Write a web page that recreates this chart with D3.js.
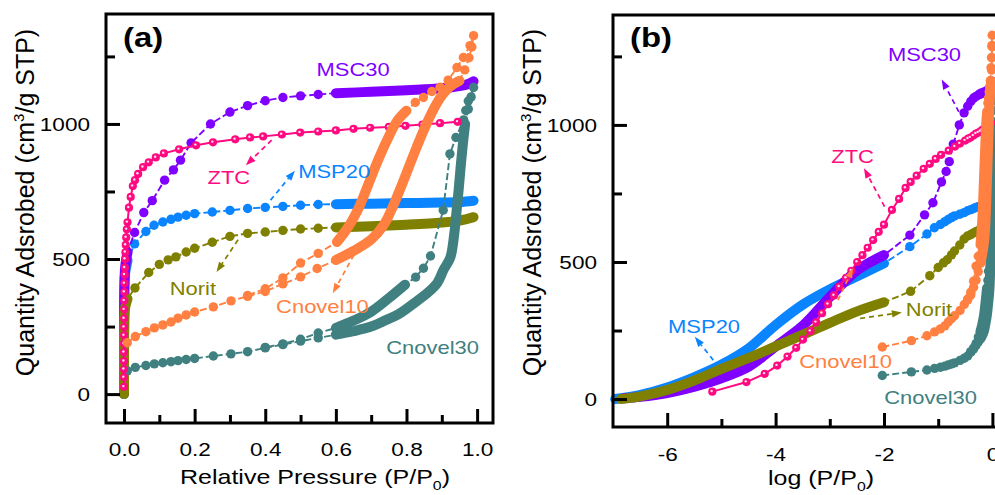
<!DOCTYPE html>
<html>
<head>
<meta charset="utf-8">
<script src="https://cdn.jsdelivr.net/npm/d3@7"></script>
<style>
  html, body { margin: 0; padding: 0; background: #fff; }
  svg { display: block; font-family: "Liberation Sans", Arial, Helvetica, sans-serif; }
</style>
</head>
<body>
<script>
// N2 isotherms at 77 K: [relative pressure P/P0, quantity adsorbed (cm3/g STP)]

// MSC30
const msc30Low  = [[1.6e-7,3],[3.2e-7,8],[1e-6,22],[3.2e-6,45],[1e-5,76],[3.2e-5,118],[1e-4,192],[3.2e-4,268],[1e-3,372],[3.2e-3,470],[1e-2,525]];
const msc30Mid  = [[0.03,598],[0.056,672],[0.08,716],[0.115,792],[0.14,830],[0.16,866],[0.19,930],[0.245,1000],[0.3,1044],[0.35,1068],[0.4,1086],[0.45,1098],[0.5,1104],[0.55,1109]];
const msc30High = [[0.6,1114],[0.7,1119],[0.8,1125],[0.9,1132],[0.95,1140],[0.975,1148],[0.99,1158]];

// MSP20
const msp20Low  = [[1.1e-7,0],[3.2e-7,15],[1e-6,42],[3.2e-6,80],[1e-5,125],[3.2e-5,185],[1e-4,270],[3.2e-4,345],[1e-3,400],[3.2e-3,448],[1e-2,495]];
const msp20Mid  = [[0.03,556],[0.062,602],[0.085,625],[0.11,637],[0.133,647],[0.153,655],[0.176,662],[0.2,668],[0.25,674],[0.3,680],[0.35,687],[0.4,691],[0.45,695],[0.5,699],[0.55,702]];
const msp20High = [[0.6,703],[0.7,705],[0.8,707],[0.9,709],[0.95,711],[0.99,716]];

// Norit
const noritLow  = [[1.4e-7,0],[3.2e-7,10],[1e-6,33],[3.2e-6,68],[1e-5,110],[3.2e-5,150],[1e-4,192],[3.2e-4,235],[1e-3,278],[3.2e-3,320],[1e-2,353]];
const noritMid  = [[0.031,393],[0.07,450],[0.1,480],[0.125,497],[0.147,508],[0.176,526],[0.2,540],[0.25,562],[0.3,584],[0.35,595],[0.4,600],[0.45,606],[0.5,611],[0.55,614]];
const noritHigh = [[0.6,617],[0.7,621],[0.8,627],[0.9,635],[0.95,642],[0.99,655]];

// ZTC
const ztcAds = [[6.8e-6,27],[2.9e-5,62],[6.3e-5,92],[1.07e-4,122],[1.66e-4,155],[2.4e-4,187],[3.2e-4,217],[4.4e-4,248],[5.6e-4,280],[7.2e-4,313],[9.3e-4,346],[1.2e-3,378],[1.5e-3,410],[2.0e-3,442],[2.5e-3,468],[3.2e-3,500],[4.0e-3,525],[5.0e-3,552],[6.3e-3,580],[8.0e-3,610],[0.01,636],[0.014,690],[0.019,730],[0.025,770],[0.031,792],[0.04,815],[0.054,840],[0.07,858],[0.09,876],[0.113,891],[0.156,906],[0.204,921],[0.252,932],[0.315,943],[0.357,950],[0.394,954],[0.447,961],[0.499,968],[0.55,972],[0.6,976],[0.65,982],[0.697,986],[0.75,989],[0.797,993],[0.845,998],[0.895,1003],[0.945,1008]];

// Cnovel10 (adsorption / desorption)
const c10AdsMid  = [[0.0093,190],[0.032,213],[0.062,231],[0.086,245],[0.11,256],[0.133,267],[0.153,281],[0.176,293],[0.2,304],[0.253,323],[0.303,345],[0.35,362],[0.4,380],[0.45,408],[0.5,434],[0.547,465]];
const c10AdsHigh = [[0.6,496],[0.65,530],[0.7,572],[0.735,625],[0.76,690],[0.79,785],[0.82,885],[0.85,980],[0.875,1050],[0.9,1105],[0.925,1140],[0.95,1160]];
const c10AdsTop  = [[0.965,1200],[0.977,1245],[0.985,1285],[0.99,1327]];
const c10DesTop  = [[0.98,1290],[0.961,1246],[0.943,1209],[0.918,1162],[0.895,1136],[0.872,1120],[0.848,1098],[0.825,1080]];
const c10DesHigh = [[0.8,1049],[0.773,1010],[0.745,940],[0.716,855],[0.69,770],[0.665,690],[0.645,640],[0.625,600],[0.603,563]];
const c10DesMid  = [[0.55,521],[0.5,485],[0.45,430],[0.4,390],[0.35,365]];

// Cnovel30 (adsorption / desorption)
const c30AdsMid  = [[0.0093,86],[0.032,99],[0.062,106],[0.086,112],[0.11,116],[0.133,120],[0.153,124],[0.176,128],[0.2,132],[0.253,141],[0.303,149],[0.35,157],[0.4,171],[0.45,183],[0.5,196],[0.55,208]];
const c30AdsHigh = [[0.6,220],[0.65,233],[0.7,250],[0.735,270],[0.78,298],[0.83,345],[0.86,375],[0.887,411],[0.905,460],[0.924,505],[0.935,590],[0.942,680],[0.948,760],[0.954,850],[0.96,930],[0.966,1000]];
const c30AdsTop  = [[0.975,1055],[0.983,1100],[0.99,1135]];
const c30DesTop  = [[0.975,1085],[0.968,1050],[0.962,1015],[0.94,950],[0.923,889],[0.904,681],[0.868,511],[0.848,466],[0.826,433]];
const c30DesHigh = [[0.796,405],[0.75,355],[0.7,305],[0.65,272],[0.6,245]];
const c30DesMid  = [[0.55,226],[0.5,203],[0.45,186],[0.4,173]];

// axis ticks
const yMajor = [0, 500, 1000];
const yMinor = [250, 750, 1250];
const xMajorA = [0, 0.2, 0.4, 0.6, 0.8, 1.0];
const xMinorA = [0.1, 0.3, 0.5, 0.7, 0.9];
const xMajorB = [-6, -4, -2, 0];
const xMinorB = [-5, -3, -1];

const colors = {
  MSC30: "#8000ff", ZTC: "#ff0a80", MSP20: "#0a84ff",
  Norit: "#808000", Cnovel10: "#ff8040", Cnovel30: "#408080"
};

// each run: [points, drawn as a continuous dense band?]
const materials = [
  { name: "MSP20", ads: [[msp20Low, true], [msp20Mid, false], [msp20High, true]], des: [] },
  { name: "MSC30", ads: [[msc30Low, true], [msc30Mid, false], [msc30High, true]], des: [] },
  { name: "Norit", ads: [[noritLow, true], [noritMid, false], [noritHigh, true]], des: [] },
  { name: "Cnovel30", ads: [[c30AdsMid, false], [c30AdsHigh, true], [c30AdsTop, false]],
    des: [[c30DesTop, false], [c30DesHigh, true], [c30DesMid, false]] },
  { name: "ZTC", ads: [[ztcAds, false]], des: [], ball: true },
  { name: "Cnovel10", ads: [[c10AdsMid, false], [c10AdsHigh, true], [c10AdsTop, false]],
    des: [[c10DesTop, false], [c10DesHigh, true], [c10DesMid, false]] }
];

const W = 995, H = 495;
const SX = 1.22;            // horizontal glyph stretch used by all horizontal text
const svg = d3.select("body").append("svg").attr("width", W).attr("height", H);

const panels = [
  {
    tag: "(a)",
    x: d3.scaleLinear().domain([-0.051, 1.045]).range([106, 493]),
    y: d3.scaleLinear().domain([-107, 1407]).range([423, 14]),
    xv: p => p,
    xMajor: xMajorA, xMinor: xMinorA,
    fmt: d3.format(".1f"),
    tickLabelY: 456, yTickRight: 90, yLabelX: 34, xLabelY: 484,
    xLabel: ["Relative Pressure (P/P", "0", ")"], xLabelX: 315,
    notes: [
      { name: "MSC30", at: [0.649, 1178] },
      { name: "ZTC", at: [0.297, 778], from: [0.418, 940], to: [0.345, 847] },
      { name: "MSP20", at: [0.595, 800], from: [0.415, 718], to: [0.484, 827] },
      { name: "Norit", at: [0.195, 367], from: [0.323, 571], to: [0.262, 452] },
      { name: "Cnovel10", at: [0.562, 300], from: [0.651, 515], to: [0.591, 373] },
      { name: "Cnovel30", at: [0.874, 148] }
    ]
  },
  {
    tag: "(b)",
    x: d3.scaleLinear().domain([-7, 0.5]).range([613, 1019.5]),
    y: d3.scaleLinear().domain([-102, 1401]).range([427, 15]),
    xv: p => Math.log10(p),
    xMajor: xMajorB, xMinor: xMinorB,
    fmt: d => String(d),
    tickLabelY: 461, yTickRight: 597, yLabelX: 541, xLabelY: 485,
    xLabel: ["log (P/P", "0", ")"], xLabelX: 821,
    notes: [
      { name: "MSC30", at: [-1.253, 1233], from: [-0.62, 1048], to: [-0.935, 1166] },
      { name: "ZTC", at: [-2.58, 862], from: [-1.99, 702], to: [-2.37, 842] },
      { name: "MSP20", at: [-5.32, 241], from: [-5.15, 142], to: [-5.49, 227] },
      { name: "Norit", at: [-1.17, 303], from: [-2.44, 294], to: [-1.67, 316] },
      { name: "Cnovel10", at: [-2.71, 113], from: [-2.85, 361], to: [-2.57, 478] },
      { name: "Cnovel30", at: [-1.14, -18] }
    ]
  }
];

function stretchedText(g, x, y, size, anchor) {
  return g.append("text")
    .attr("transform", `translate(${x},${y}) scale(${SX},1)`)
    .attr("text-anchor", anchor)
    .attr("font-size", size);
}

function drawArrow(g, p, note, color) {
  const x1 = p.x(note.from[0]), y1 = p.y(note.from[1]);
  const x2 = p.x(note.to[0]), y2 = p.y(note.to[1]);
  const a = Math.atan2(y2 - y1, x2 - x1);
  const len = 10, half = 3.6;
  const bx = x2 - len * Math.cos(a), by = y2 - len * Math.sin(a);
  g.append("line")
    .attr("x1", x1).attr("y1", y1).attr("x2", bx).attr("y2", by)
    .attr("stroke", color).attr("stroke-width", 1.7).attr("stroke-dasharray", "5,4");
  g.append("path")
    .attr("d", `M${x2},${y2}L${bx + half * Math.sin(a)},${by - half * Math.cos(a)}L${bx - half * Math.sin(a)},${by + half * Math.cos(a)}Z`)
    .attr("fill", color);
}

panels.forEach(p => {
  const g = svg.append("g");
  const px = d => p.x(p.xv(d[0]));
  const py = d => p.y(d[1]);
  const straight = d3.line().x(px).y(py);
  const smooth = d3.line().x(px).y(py).curve(d3.curveCatmullRom.alpha(0.5));

  // isotherms
  materials.forEach(m => {
    const c = colors[m.name];
    const sg = g.append("g");
    const adsPts = m.ads.map(r => r[0]).flat();
    const branches = [adsPts];
    if (m.des.length) branches.push([adsPts[adsPts.length - 1], ...m.des.map(r => r[0]).flat()]);
    branches.forEach(pts => {
      sg.append("path").attr("d", straight(pts))
        .attr("fill", "none").attr("stroke", c).attr("stroke-width", m.ball ? 2 : 1.9)
        .attr("stroke-dasharray", m.ball ? null : "7,3");
    });
    const runs = [...m.ads, ...m.des];
    runs.filter(r => r[1]).forEach(r => {
      sg.append("path").attr("d", smooth(r[0]))
        .attr("fill", "none").attr("stroke", c).attr("stroke-width", 10)
        .attr("stroke-linecap", "round").attr("stroke-linejoin", "round");
    });
    const dots = runs.filter(r => !r[1]).flatMap(r => r[0]);
    if (m.ball) {
      sg.selectAll("circle.ball").data(dots).join("circle").attr("class", "ball")
        .attr("cx", px).attr("cy", py).attr("r", 4.1).attr("fill", c);
      sg.selectAll("circle.glint").data(dots).join("circle").attr("class", "glint")
        .attr("cx", d => px(d) - 0.7).attr("cy", d => py(d) - 0.7).attr("r", 1.2)
        .attr("fill", "#ffe0ef");
    } else {
      sg.selectAll("circle").data(dots).join("circle")
        .attr("cx", px).attr("cy", py).attr("r", 4.7).attr("fill", c);
    }
  });

  // annotations
  p.notes.forEach(n => {
    const c = colors[n.name];
    if (n.from) drawArrow(g, p, n, c);
    stretchedText(g, p.x(n.at[0]), p.y(n.at[1]), 18, "middle").attr("fill", c).text(n.name);
  });

  // frame
  const [x0, x1] = p.x.range(), [y0, y1] = p.y.range();
  g.append("rect").attr("x", x0).attr("y", y1).attr("width", x1 - x0).attr("height", y0 - y1)
    .attr("fill", "none").attr("stroke", "#000").attr("stroke-width", 3);

  // axes with inward ticks
  const styleAxis = sel => {
    sel.select(".domain").remove();
    sel.selectAll(".tick line").attr("stroke", "#000").attr("stroke-width", 3);
  };
  const bx = g.append("g").attr("transform", `translate(0,${y0})`)
    .call(d3.axisBottom(p.x).tickValues(p.xMajor).tickSize(-14).tickFormat(p.fmt)).call(styleAxis);
  bx.selectAll(".tick text")
    .attr("y", null).attr("dy", null).attr("fill", "#000")
    .attr("font-size", 18.5).attr("font-family", null)
    .attr("transform", `translate(0,${p.tickLabelY - y0}) scale(${SX},1)`);
  g.append("g").attr("transform", `translate(0,${y0})`)
    .call(d3.axisBottom(p.x).tickValues(p.xMinor).tickSize(-8).tickFormat(() => "")).call(styleAxis);

  const ly = g.append("g").attr("transform", `translate(${x0},0)`)
    .call(d3.axisLeft(p.y).tickValues(yMajor).tickSize(-14).tickFormat(d3.format("d"))).call(styleAxis);
  ly.selectAll(".tick text")
    .attr("x", null).attr("dy", null).attr("fill", "#000")
    .attr("font-size", 18.5).attr("font-family", null)
    .attr("transform", `translate(${p.yTickRight - x0},6.7) scale(${SX},1)`);
  g.append("g").attr("transform", `translate(${x0},0)`)
    .call(d3.axisLeft(p.y).tickValues(yMinor).tickSize(-9).tickFormat(() => "")).call(styleAxis);

  // panel tag
  stretchedText(g, x0 + 17, 47, 27, "start").attr("font-weight", "bold").text(p.tag);

  // x label
  const xl = stretchedText(g, p.xLabelX, p.xLabelY, 20.5, "middle").attr("fill", "#000");
  xl.append("tspan").text(p.xLabel[0]);
  xl.append("tspan").attr("font-size", 13).attr("dy", 6).text(p.xLabel[1]);
  xl.append("tspan").attr("dy", -6).text(p.xLabel[2]);

  // y label
  const yl = g.append("text")
    .attr("transform", `translate(${p.yLabelX},202.5) rotate(-90)`)
    .attr("text-anchor", "middle").attr("font-size", 25).attr("fill", "#000");
  yl.append("tspan").text("Quantity Adsrobed (cm");
  yl.append("tspan").attr("font-size", 15).attr("dy", -10).text("3");
  yl.append("tspan").attr("dy", 10).text("/g STP)");
});
</script>
</body>
</html>
